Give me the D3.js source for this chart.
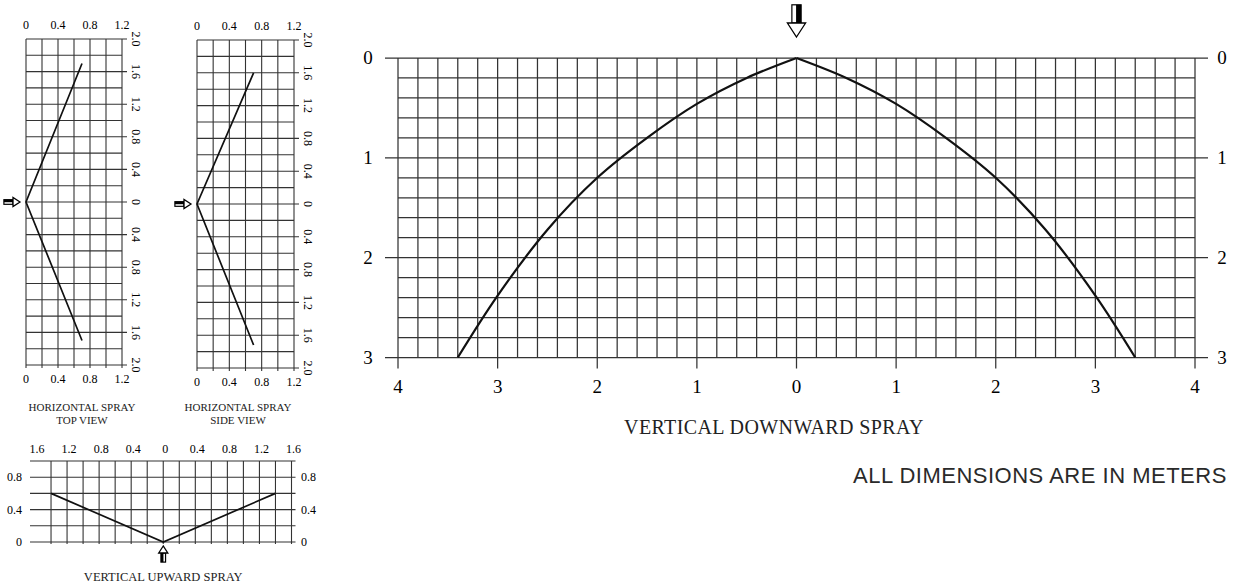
<!DOCTYPE html>
<html lang="en">
<head>
  <meta charset="UTF-8">
  <title>Spray pattern</title>
  <script src="https://cdn.jsdelivr.net/npm/d3@7/dist/d3.min.js"></script>
  <style>
    body { margin: 0; background: #fff; }
    svg { display: block; }
  </style>
</head>
<body>
  <svg id="chart" width="1234" height="586"></svg>
  <script>
    // horizontal spray, top view (x = reach, y = spread, + above / - below)
    const topViewX = [0.7, 0, 0.7];
    const topViewY = [1.7, 0, -1.7];
    // horizontal spray, side view
    const sideViewX = [0.7, 0, 0.7];
    const sideViewY = [1.6, 0, -1.72];
    // vertical upward spray
    const upX = [-1.4, 0, 1.4];
    const upY = [0.6, 0, 0.6];
    // vertical downward spray (one half, mirrored)
    const downX = [0, 0.5, 1, 1.5, 2, 2.5, 3, 3.4];
    const downDepth = [0, 0.2, 0.46, 0.8, 1.2, 1.72, 2.38, 3.0];

    const smallXTicks = [0, 0.4, 0.8, 1.2];
    const smallYTicks = [2.0, 1.6, 1.2, 0.8, 0.4, 0, -0.4, -0.8, -1.2, -1.6, -2.0];
    const upXTicks = [-1.6, -1.2, -0.8, -0.4, 0, 0.4, 0.8, 1.2, 1.6];
    const upYTicks = [0, 0.4, 0.8];
    const mainXTicks = [-4, -3, -2, -1, 0, 1, 2, 3, 4];
    const mainYTicks = [0, 1, 2, 3];

    const svg = d3.select('#chart');
    const serif = '"Liberation Serif", "Times New Roman", serif';
    const gridColor = '#333';
    const fmt = v => (Math.abs(v) === 0 ? '0' : d3.format('.1f')(Math.abs(v)));

    function arrow(g, x, y, dir, size) {
      // outlined arrow, tip at (x,y); dir: 'right' | 'down' | 'up'
      let s = size;
      let rot = dir === 'right' ? 0 : dir === 'down' ? 90 : -90;
      let a = g.append('g').attr('transform', `translate(${x},${y}) rotate(${rot})`);
      a.append('rect')
        .attr('x', -s * 2.3).attr('y', -s * 0.33)
        .attr('width', s * 1.3).attr('height', s * 0.66)
        .attr('fill', '#fff').attr('stroke', '#000').attr('stroke-width', 1.2);
      a.append('rect')
        .attr('x', -s * 2.3).attr('y', -s * 0.33)
        .attr('width', s * 1.3).attr('height', s * 0.36)
        .attr('fill', '#000');
      a.append('path')
        .attr('d', `M0 0 L${-s} ${-s * 0.65} L${-s} ${s * 0.65} Z`)
        .attr('fill', '#fff').attr('stroke', '#000').attr('stroke-width', 1.3);
    }

    function smallChart(o) {
      const x = d3.scaleLinear().domain([0, 1.2]).range([o.left, o.right]);
      const y = d3.scaleLinear().domain([2, -2]).range([o.top, o.bottom]);
      const g = svg.append('g');

      g.selectAll('.v').data(d3.range(0, 1.21, 0.2)).enter().append('line')
        .attr('x1', d => x(d)).attr('x2', d => x(d))
        .attr('y1', o.top).attr('y2', o.bottom + 3)
        .attr('stroke', gridColor).attr('stroke-width', 1.1);
      g.selectAll('.h').data(d3.range(-2, 2.01, 0.2)).enter().append('line')
        .attr('x1', o.left).attr('x2', d => {
          let r = Math.round(d * 10);
          return (r % 4 === 0) ? o.right + 5 : o.right;
        })
        .attr('y1', d => y(d)).attr('y2', d => y(d))
        .attr('stroke', gridColor).attr('stroke-width', 1.1);

      g.selectAll('.tt').data(smallXTicks).enter().append('text')
        .attr('x', d => x(d)).attr('y', o.top - 10)
        .attr('text-anchor', 'middle').attr('font-family', serif).attr('font-size', 12)
        .text(d => fmt(d));
      g.selectAll('.bt').data(smallXTicks).enter().append('text')
        .attr('x', d => x(d)).attr('y', o.bottom + 18)
        .attr('text-anchor', 'middle').attr('font-family', serif).attr('font-size', 12)
        .text(d => fmt(d));
      g.selectAll('.rt').data(smallYTicks).enter().append('text')
        .attr('transform', d => `translate(${o.right + 10},${y(d)}) rotate(90)`)
        .attr('text-anchor', 'middle').attr('font-family', serif).attr('font-size', 12)
        .text(d => fmt(d));

      const pts = o.xs.map((v, i) => [v, o.ys[i]]);
      g.append('path')
        .attr('d', d3.line().x(d => x(d[0])).y(d => y(d[1]))(pts))
        .attr('fill', 'none').attr('stroke', '#111').attr('stroke-width', 1.7);

      arrow(g, x(0) - 6, y(0), 'right', 7);

      o.title.forEach((t, i) => {
        g.append('text')
          .attr('x', o.titleX).attr('y', 411 + i * 13)
          .attr('text-anchor', 'middle').attr('font-family', serif).attr('font-size', 11)
          .attr('fill', '#222')
          .text(t);
      });
    }

    smallChart({ left: 26, right: 122, top: 39, bottom: 365, xs: topViewX, ys: topViewY,
      title: ['HORIZONTAL SPRAY', 'TOP VIEW'], titleX: 82 });
    smallChart({ left: 197, right: 294, top: 40, bottom: 368, xs: sideViewX, ys: sideViewY,
      title: ['HORIZONTAL SPRAY', 'SIDE VIEW'], titleX: 238 });

    // vertical upward spray
    (() => {
      const x = d3.scaleLinear().domain([-1.6, 1.6]).range([35, 291.5]);
      const y = d3.scaleLinear().domain([0, 1]).range([542, 461]);
      const g = svg.append('g');
      g.selectAll('.v').data(d3.range(-1.4, 1.61, 0.2)).enter().append('line')
        .attr('x1', d => x(d)).attr('x2', d => x(d))
        .attr('y1', y(1)).attr('y2', y(0) + 2)
        .attr('stroke', gridColor).attr('stroke-width', 1.1);
      g.selectAll('.h').data(d3.range(0, 1.01, 0.2)).enter().append('line')
        .attr('x1', x(-1.6) - 5).attr('x2', x(1.6) + 4)
        .attr('y1', d => y(d)).attr('y2', d => y(d))
        .attr('stroke', gridColor).attr('stroke-width', 1.1);
      g.selectAll('.tt').data(upXTicks).enter().append('text')
        .attr('x', d => x(d) + 2).attr('y', 453)
        .attr('text-anchor', 'middle').attr('font-family', serif).attr('font-size', 12)
        .text(d => fmt(d));
      g.selectAll('.lt').data(upYTicks).enter().append('text')
        .attr('x', 22).attr('y', d => y(d) + 4)
        .attr('text-anchor', 'end').attr('font-family', serif).attr('font-size', 12)
        .text(d => fmt(d));
      g.selectAll('.rt').data(upYTicks).enter().append('text')
        .attr('x', 301).attr('y', d => y(d) + 4)
        .attr('text-anchor', 'start').attr('font-family', serif).attr('font-size', 12)
        .text(d => fmt(d));
      const pts = upX.map((v, i) => [v, upY[i]]);
      g.append('path')
        .attr('d', d3.line().x(d => x(d[0])).y(d => y(d[1]))(pts))
        .attr('fill', 'none').attr('stroke', '#111').attr('stroke-width', 1.7);
      arrow(g, x(0), y(0) + 4, 'up', 7);
      g.append('text')
        .attr('x', x(0)).attr('y', 581)
        .attr('text-anchor', 'middle').attr('font-family', serif).attr('font-size', 12.5)
        .attr('fill', '#222')
        .text('VERTICAL UPWARD SPRAY');
    })();

    // vertical downward spray (main)
    (() => {
      const x = d3.scaleLinear().domain([-4, 4]).range([398, 1195]);
      const y = d3.scaleLinear().domain([0, 3]).range([58, 357.5]);
      const isInt = d => Math.abs(d - Math.round(d)) < 1e-6;
      const g = svg.append('g');
      g.selectAll('.v').data(d3.range(-4, 4.01, 0.2)).enter().append('line')
        .attr('x1', d => x(d)).attr('x2', d => x(d))
        .attr('y1', y(0)).attr('y2', d => isInt(d) ? y(3) + 11 : y(3))
        .attr('stroke', gridColor).attr('stroke-width', 1.25);
      g.selectAll('.h').data(d3.range(0, 3.01, 0.2)).enter().append('line')
        .attr('x1', d => isInt(d) ? 385 : x(-4))
        .attr('x2', d => isInt(d) ? 1208 : x(4))
        .attr('y1', d => y(d)).attr('y2', d => y(d))
        .attr('stroke', gridColor).attr('stroke-width', 1.25);

      g.selectAll('.bt').data(mainXTicks).enter().append('text')
        .attr('x', d => x(d)).attr('y', 393)
        .attr('text-anchor', 'middle').attr('font-family', serif).attr('font-size', 19)
        .text(d => Math.abs(d));
      g.selectAll('.lt').data(mainYTicks).enter().append('text')
        .attr('x', 368).attr('y', d => y(d) + 6)
        .attr('text-anchor', 'middle').attr('font-family', serif).attr('font-size', 19)
        .text(d => d);
      g.selectAll('.rt').data(mainYTicks).enter().append('text')
        .attr('x', 1222).attr('y', d => y(d) + 6)
        .attr('text-anchor', 'middle').attr('font-family', serif).attr('font-size', 19)
        .text(d => d);

      const line = d3.line().x(d => x(d[0])).y(d => y(d[1])).curve(d3.curveCatmullRom.alpha(0.5));
      const left = downX.map((v, i) => [-v, downDepth[i]]).reverse();
      const right = downX.map((v, i) => [v, downDepth[i]]);
      [left, right].forEach(pts => {
        g.append('path')
          .attr('d', line(pts))
          .attr('fill', 'none').attr('stroke', '#111').attr('stroke-width', 2.2);
      });

      arrow(g, x(0), 37, 'down', 14);

      g.append('text')
        .attr('x', 774).attr('y', 434)
        .attr('text-anchor', 'middle').attr('font-family', serif).attr('font-size', 20)
        .attr('letter-spacing', 0.4)
        .attr('fill', '#222')
        .text('VERTICAL DOWNWARD SPRAY');
    })();

    svg.append('text')
      .attr('x', 853).attr('y', 483)
      .attr('font-family', '"Liberation Sans", Arial, sans-serif').attr('font-size', 22)
      .attr('letter-spacing', 0.5)
      .attr('fill', '#2a2a2a')
      .text('ALL DIMENSIONS ARE IN METERS');
  </script>
</body>
</html>
